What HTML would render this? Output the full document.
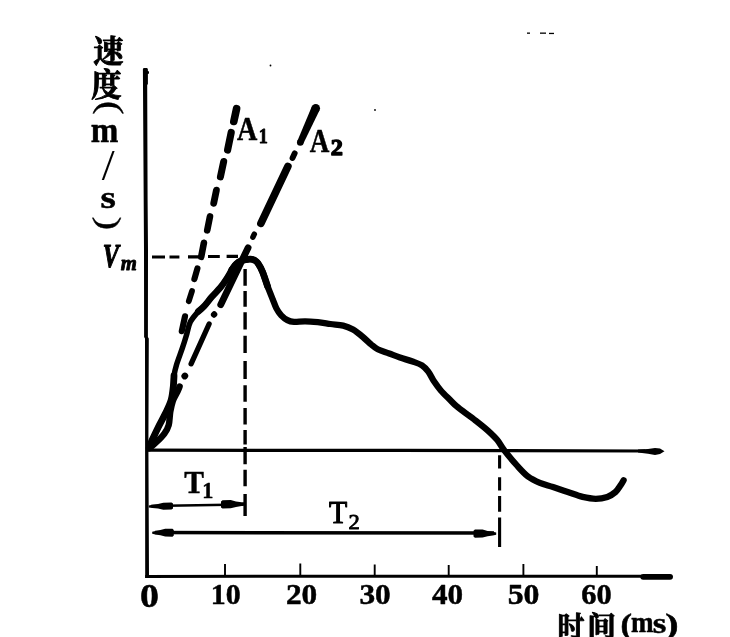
<!DOCTYPE html>
<html lang="zh">
<head>
<meta charset="utf-8">
<title>速度-时间曲线</title>
<style>
html,body{margin:0;padding:0;background:#fff;}
body{width:730px;height:637px;overflow:hidden;position:relative;}
svg{position:absolute;left:0;top:0;display:block;}
text{fill:#000;stroke:#000;stroke-width:0.5px;stroke-linejoin:round;font-family:"Liberation Serif","Noto Serif CJK SC",serif;}
</style>
</head>
<body>
<svg width="730" height="637" viewBox="0 0 730 637">
<rect x="0" y="0" width="730" height="637" fill="#fff"/>

<!-- axes -->
<path d="M142.9 69.2 Q143 68 144.2 68 L146.8 68 Q147.9 68 147.9 69.5 L147.9 71 L149 71.6 L149 73.4 L147.9 74 L147.9 84 L147.2 85 L147.6 200 L148 250 L147.9 337 L148.8 338.5 L148.4 445 L149 578 L145.2 578 L145 338.5 L144.1 337 L144 250 L143.2 120 Z" fill="#000"/>
<g stroke="#000" fill="none">
<path d="M145.2 576.4 L400 576.2 L642 576.2" stroke-width="3"/>
<path d="M643.2 576.8 L670.1 576.8" stroke-width="5.8" stroke-linecap="round"/>
<path d="M147 450.2 L400 450.4 L645 451" stroke-width="3.2"/>
<path d="M225 564 V575.5 M300.3 563.4 V575.5 M374.7 564.5 V575.5 M448.7 565 V575.5 M523.4 564 V575.5 M596.8 566 V575.5" stroke-width="1.9"/>
</g>
<path d="M664.5 451.3 L660 448.6 L655 447.9 L648 448.9 L638 449.6 L638 452.6 L648 453.7 L655 454.9 L660 454.1 Z" fill="#000"/>
<!-- dashed guides -->
<g stroke="#000" fill="none">
<path d="M152 257 H165 M169.5 257 H179.4 M188 256.9 H199 M208 256.5 H219.8 M226.6 256.4 H238" stroke-width="3.1"/>
<path d="M245.1 268.9 V285.7 M245.1 291 V306.8 M245.1 312.3 V329.5 M245.1 335.8 V353.1 M245.1 361 V379 M245.1 385.3 V401.8 M245.1 408 V424.5 M245.1 430 V444.5 M245.1 447 V464.3 M245.1 469.8 V486.3 M245.1 494.1 V516" stroke-width="3.4"/>
<path d="M499.6 455.3 V468.6 M499.6 477.3 V490.6 M499.6 496 V511.8 M499.6 517.5 V547" stroke-width="3.1"/>
</g>
<!-- A1 tangent (dashed) -->
<g stroke="#000" fill="none" stroke-linecap="round">
<path d="M236.6 108.6 L233.8 121.5" stroke-width="7.6"/>
<path d="M231.2 132.5 L227.6 150.0" stroke-width="7.2"/>
<path d="M223.7 161.5 L220.4 176.9" stroke-width="7.0"/>
<path d="M216.4 190.2 L213.7 203.3" stroke-width="6.8"/>
<path d="M210.0 216.4 L207.2 230.3" stroke-width="6.6"/>
<path d="M203.9 242.8 L201.2 256.8" stroke-width="6.6"/>
<path d="M197.4 268.5 L194.4 279.0" stroke-width="6.2"/>
<path d="M192.0 291.1 L188.8 301.2" stroke-width="5.8"/>
<path d="M185.0 316.4 L181.8 331.2" stroke-width="6.2"/>
</g>
<!-- A2 tangent (chain line) -->
<g fill="#000" stroke="none"><path d="M311.81 106.45 L297.25 141.13 L303.27 143.85 L319.65 109.99 Z"/><circle cx="315.73" cy="108.22" r="4.30"/><circle cx="300.26" cy="142.49" r="3.30"/></g>
<g stroke="#000" fill="none" stroke-linecap="round">
<path d="M294.7 153.3 L292.5 158.0" stroke-width="5.8"/>
<path d="M287.9 166.4 L260.9 223.4" stroke-width="7.6"/>
<path d="M254.3 234.2 L252.9 237.2" stroke-width="5.5"/>
<path d="M248.1 247.7 L220.7 304.7" stroke-width="6.8"/>
<path d="M214.2 314.4 L214.0 314.6" stroke-width="6.2"/>
<path d="M209.1 324.0 L191.1 363.8" stroke-width="5.3"/>
<path d="M184.9 375.9 L184.7 376.1" stroke-width="6.6"/>
<path d="M179.6 386.6 C179.3 387.4 178.7 389.0 177.6 391.4 C176.5 393.8 174.0 397.7 172.8 401.1 C171.6 404.5 171.0 407.8 170.3 411.8 C169.6 415.8 169.7 421.5 168.7 425.1 C167.7 428.8 166.5 430.8 164.3 433.7 C162.1 436.6 158.2 440.4 155.7 442.8 C153.2 445.2 150.4 447.3 149.4 448.2" stroke-width="6.4"/>
</g>
<!-- velocity curve -->
<g stroke="#000" fill="none" stroke-linecap="round" stroke-linejoin="round">
<path d="M149.2 447.6 C149.7 446.3 150.6 443.5 152.2 440.0 C153.8 436.5 156.2 431.3 158.5 426.7 C160.8 422.1 163.8 416.9 165.9 412.5 C168.0 408.1 170.0 404.3 171.2 400.0 C172.4 395.7 172.8 390.8 173.3 386.7 C173.8 382.6 173.4 379.4 174.0 375.7 C174.6 372.0 175.2 369.2 176.6 364.5 C178.0 359.8 180.8 352.8 182.5 347.7 C184.2 342.6 185.5 338.2 186.8 333.9 C188.1 329.6 188.5 325.5 190.4 321.8 C192.3 318.1 196.1 314.0 198.3 311.5 C200.5 309.0 201.6 309.0 203.8 306.6 C206.0 304.2 208.8 300.4 211.5 297.2 C214.2 294.0 217.7 290.8 220.3 287.7 C222.9 284.6 225.1 281.3 227.0 278.3 C228.9 275.3 231.2 271.0 232.0 269.5" stroke-width="5.5"/>
<path d="M198.3 311.5 C199.2 310.7 201.6 309.0 203.8 306.6 C206.0 304.2 208.8 300.4 211.5 297.2 C214.2 294.0 217.7 290.8 220.3 287.7 C222.9 284.6 225.1 281.3 227.0 278.3 C228.9 275.3 231.2 271.0 232.0 269.5" stroke-width="6.6"/>
<path d="M232.0 269.5 C232.7 268.6 234.8 265.4 236.3 264.0 C237.8 262.6 239.4 261.6 241.0 260.9 C242.6 260.2 244.4 259.9 246.0 259.6 C247.6 259.3 249.1 259.1 250.5 259.2 C251.9 259.3 253.3 259.5 254.5 260.2 C255.7 260.9 256.6 261.3 257.9 263.2 C259.2 265.1 260.9 267.9 262.5 271.8 C264.1 275.7 266.8 284.0 267.6 286.4" stroke-width="6.8"/>
<path d="M149.2 447.6 C149.7 446.3 150.6 443.5 152.2 440.0 C153.8 436.5 156.2 431.3 158.5 426.7 C160.8 422.1 163.8 416.9 165.9 412.5 C168.0 408.1 170.0 404.3 171.2 400.0 C172.4 395.7 172.8 390.8 173.3 386.7 C173.8 382.6 173.9 377.5 174.0 375.7" stroke-width="6.8"/>
<path d="M232.0 269.5 C232.7 268.6 234.8 265.4 236.3 264.0 C237.8 262.6 239.4 261.6 241.0 260.9 C242.6 260.2 244.4 259.9 246.0 259.6 C247.6 259.3 249.1 259.1 250.5 259.2 C251.9 259.3 253.3 259.5 254.5 260.2 C255.7 260.9 256.6 261.3 257.9 263.2 C259.2 265.1 260.9 267.9 262.5 271.8 C264.1 275.7 265.9 281.9 267.6 286.4 C269.3 290.9 271.1 295.3 272.6 299.0 C274.1 302.7 275.0 305.7 276.4 308.4 C277.8 311.1 279.4 313.4 281.2 315.3 C283.0 317.2 285.3 319.0 287.4 320.1 C289.5 321.2 291.0 321.6 294.0 321.8 C297.0 322.0 301.3 321.2 305.3 321.3 C309.3 321.4 313.6 321.8 317.8 322.2 C322.0 322.6 326.2 323.4 330.4 324.0 C334.6 324.6 339.4 324.7 343.2 325.6 C347.0 326.5 349.7 327.7 353.0 329.6 C356.3 331.5 359.9 334.5 362.9 337.0 C365.9 339.5 368.6 342.3 371.1 344.4 C373.6 346.4 374.7 347.8 377.7 349.3 C380.7 350.8 385.5 352.1 389.2 353.5 C392.9 354.9 396.1 356.3 400.0 357.6 C403.9 358.9 408.9 360.2 412.6 361.5 C416.3 362.8 419.4 363.7 422.0 365.4 C424.6 367.1 426.3 369.1 428.3 371.7 C430.3 374.3 431.7 378.0 433.8 381.1 C435.9 384.2 438.1 387.4 440.8 390.5 C443.5 393.6 447.6 397.4 450.2 400.0 C452.8 402.6 454.4 404.4 456.5 406.2 C458.6 408.0 459.7 408.6 462.8 411.0 C465.9 413.4 471.2 417.1 475.4 420.4 C479.6 423.7 484.2 427.3 487.9 430.6 C491.5 433.9 494.5 436.7 497.3 440.0 C500.1 443.3 501.2 446.4 504.5 450.6 C507.8 454.9 513.1 461.2 517.0 465.5 C520.9 469.8 524.2 473.6 528.0 476.5 C531.8 479.4 535.7 481.1 539.9 482.9 C544.1 484.6 548.4 485.5 553.0 487.0 C557.6 488.5 562.9 490.4 567.8 492.0 C572.7 493.6 577.9 495.8 582.6 496.9 C587.3 498.0 591.7 498.8 595.8 498.8 C599.9 498.8 604.0 498.0 607.3 496.9 C610.6 495.8 613.3 493.9 615.5 492.0 C617.7 490.1 619.1 487.4 620.5 485.4 C621.9 483.4 623.1 481.1 623.6 480.2" stroke-width="6.3"/>
</g>
<!-- T1 / T2 dimension lines -->
<g stroke="#000" fill="none">
<path d="M151 506 L243 504.5" stroke-width="2.5"/>
<path d="M155 532.6 L494 533.1" stroke-width="3.5"/>
</g>
<g fill="#000">
<path d="M173.0 503.6 L171.5 502.4 L163.3 502.7 L158.0 503.9 L152.4 504.7 L148.8 505.4 L148.8 507.4 L152.4 507.9 L158.0 508.6 L163.3 509.7 L171.5 509.6 L173.0 508.4 Z"/>
<path d="M221.0 501.4 L222.5 500.2 L230.7 500.1 L236.0 501.4 L241.6 502.2 L245.2 502.2 L245.2 505.8 L241.6 506.0 L236.0 506.9 L230.7 508.3 L222.5 508.6 L221.0 507.4 Z"/>
<path d="M173.8 529.9 L172.5 528.7 L165.2 528.8 L160.4 530.1 L155.4 530.9 L152.2 531.7 L152.2 533.7 L155.4 534.5 L160.4 535.3 L165.2 536.6 L172.5 536.7 L173.8 535.5 Z"/>
<path d="M473.5 530.7 L474.9 529.5 L482.6 529.6 L487.6 530.9 L492.8 531.8 L496.2 532.4 L496.2 534.8 L492.8 535.4 L487.6 536.3 L482.6 537.6 L474.9 537.7 L473.5 536.5 Z"/>
</g>
<g fill="#000"><rect x="527" y="32.5" width="3" height="1.3"/><rect x="540" y="32.5" width="6" height="1.3"/><rect x="549" y="32.8" width="5" height="1.3"/><circle cx="270.5" cy="65.5" r="0.9"/><circle cx="375" cy="110" r="0.9"/></g>
<!-- labels -->
<g><text transform="translate(93.29 61.51) scale(0.976 1)" font-size="31.06" font-weight="700" style="stroke-width:0.9px">速</text><text transform="translate(90.98 95.86) scale(0.970 1)" font-size="31.58" font-weight="700" style="stroke-width:0.9px">度</text><text transform="translate(99.98 100.97) rotate(90) scale(1.227 1)" font-size="33.22" font-weight="normal" style="stroke-width:0.3px">(</text><text transform="translate(90.81 142.00) scale(0.906 1)" font-size="36.60" font-weight="bold">m</text><text transform="translate(101.70 179.57) scale(1.071 1)" font-size="43.33" font-weight="normal" style="stroke-width:0">/</text><text transform="translate(100.52 207.58) scale(1.212 1)" font-size="32.50" font-weight="bold">s</text><text transform="translate(99.38 216.48) rotate(90) scale(1.301 1)" font-size="31.33" font-weight="normal" style="stroke-width:0.3px">)</text></g>
<g><text transform="translate(102.84 266.82) scale(0.715 1)" font-size="34.03" font-weight="bold" font-style="italic" style="stroke-width:1.2px">V</text><text transform="translate(120.79 269.60) scale(0.954 1)" font-size="21.70" font-weight="bold" font-style="italic" style="stroke-width:0.9px">m</text></g>
<g><text transform="translate(237.12 140.00) scale(0.844 1)" font-size="33.33" font-weight="bold">A</text><text transform="translate(258.65 142.60) scale(0.892 1)" font-size="20.30" font-weight="bold" style="stroke-width:0.9px">1</text></g>
<g><text transform="translate(309.73 151.60) scale(0.793 1)" font-size="34.24" font-weight="bold">A</text><text transform="translate(330.63 155.37) scale(1.055 1)" font-size="23.03" font-weight="bold" style="stroke-width:1.3px">2</text></g>
<g><text transform="translate(184.21 493.40) scale(0.923 1)" font-size="32.00" font-weight="bold">T</text><text transform="translate(202.23 498.40) scale(0.988 1)" font-size="22.42" font-weight="bold">1</text></g>
<g><text transform="translate(328.90 523.30) scale(0.946 1)" font-size="31.54" font-weight="normal" style="stroke-width:1.1px">T</text><text transform="translate(348.50 529.10) scale(1.068 1)" font-size="21.08" font-weight="normal" style="stroke-width:0.9px">2</text></g>
<text transform="translate(139.89 606.83) scale(1.132 1)" font-size="33.43" font-weight="bold">0</text>
<text transform="translate(210.81 603.91) scale(1.021 1)" font-size="29.26" font-weight="bold">10</text>
<text transform="translate(285.95 603.91) scale(1.054 1)" font-size="29.70" font-weight="bold">20</text>
<text transform="translate(359.45 603.91) scale(1.054 1)" font-size="29.70" font-weight="bold">30</text>
<text transform="translate(431.89 603.60) scale(1.033 1)" font-size="30.15" font-weight="bold">40</text>
<text transform="translate(507.73 603.91) scale(1.069 1)" font-size="29.70" font-weight="bold">50</text>
<text transform="translate(581.29 603.60) scale(1.009 1)" font-size="30.15" font-weight="bold">60</text>
<g><text transform="translate(557.42 637.41) scale(0.932 1)" font-size="28.82" font-weight="700" style="stroke-width:0.9px">时</text><text transform="translate(587.13 637.46) scale(1.017 1)" font-size="28.21" font-weight="700" style="stroke-width:0.9px">间</text><text transform="translate(620.42 634.31) scale(1.194 1)" font-size="29.00" font-weight="bold">(</text><text transform="translate(631.09 632.40) scale(0.929 1)" font-size="29.15" font-weight="bold">m</text><text transform="translate(652.75 632.70) scale(1.170 1)" font-size="29.79" font-weight="bold">s</text><text transform="translate(665.20 634.31) scale(1.379 1)" font-size="29.00" font-weight="bold">)</text></g>
</svg>
</body>
</html>
